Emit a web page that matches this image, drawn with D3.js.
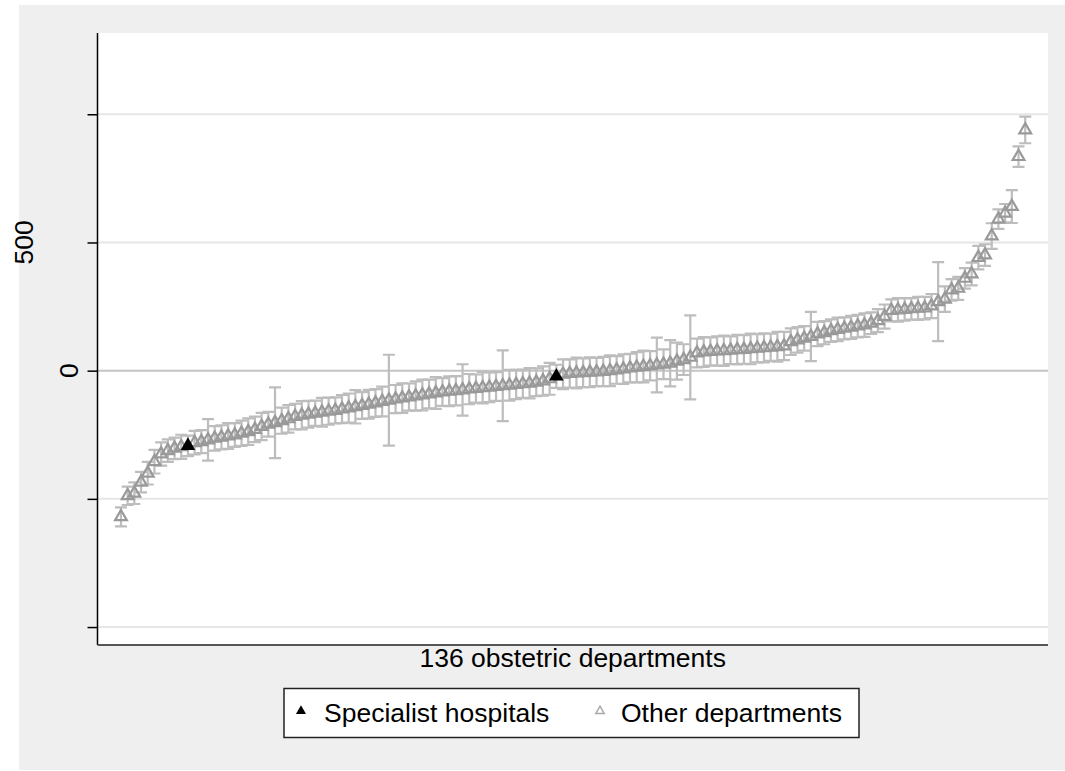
<!DOCTYPE html>
<html>
<head>
    <meta charset="utf-8">
    <title>136 obstetric departments</title>
    <script src="https://d3js.org/d3.v7.min.js"></script>
    <style>
        body { margin: 0; background: #fff; }
        text { font-family: "Liberation Sans", Arial, sans-serif; }
    </style>
</head>
<body>
<script type="text/javascript">
    const w = 1065;
    const h = 771;

    // department estimates, sorted ascending (index 1..136)
    const values = [
        -570, -488, -478, -435, -400, -355, -325, -312, -303, -297,
        -293, -281, -277, -270, -264, -260, -255, -251, -244, -238,
        -229, -218, -209, -203, -195, -188, -179, -174, -170, -166,
        -162, -158, -155, -150, -146, -141, -136, -131, -126, -120,
        -115, -111, -107, -103, -99, -95, -91, -87, -83, -80,
        -78, -75, -72, -70, -67, -65, -62, -59, -57, -54,
        -51, -49, -45, -40, -32, -22, -14, -11, -9, -8,
        -6, -5, -3, 0, 3, 6, 10, 13, 16, 19,
        22, 25, 29, 37, 43, 52, 69, 73, 75, 77,
        78, 80, 82, 83, 85, 87, 89, 91, 93, 96,
        113, 120, 126, 133, 143, 148, 156, 161, 165, 169,
        174, 178, 185, 195, 211, 235, 237, 239, 241, 243,
        244, 252, 269, 279, 315, 321, 360, 377, 441, 451,
        525, 591, 614, 640, 835, 939
    ];

    // half width of the confidence interval
    const halfWidths = [
        37, 36, 42, 40, 44, 46, 45, 44, 42, 47,
        40, 46, 45, 81, 48, 47, 50, 46, 49, 52,
        50, 53, 48, 138, 51, 54, 50, 55, 52, 49,
        56, 53, 51, 55, 57, 65, 52, 56, 54, 58,
        177, 55, 58, 53, 57, 60, 56, 62, 54, 58,
        57, 100, 59, 55, 61, 58, 56, 138, 60, 57,
        55, 59, 54, 57, 62, 45, 58, 55, 60, 56,
        58, 55, 57, 60, 54, 58, 56, 59, 62, 57,
        107, 58, 90, 72, 60, 164, 56, 58, 55, 57,
        59, 54, 58, 56, 60, 55, 57, 53, 58, 55,
        52, 50, 48, 96, 47, 45, 44, 46, 43, 45,
        44, 46, 42, 45, 47, 43, 46, 44, 42, 45,
        44, 47, 154, 50, 42, 45, 40, 44, 46, 42,
        50, 38, 36, 64, 40, 52
    ];

    // ranks of the specialist hospitals
    const specialist = [11, 66];

    const yTicks = [-1000, -500, 0, 500, 1000];
    const yLabels = [0, 500];
    const legendLabels = ['Specialist hospitals', 'Other departments'];
    const xTitle = '136 obstetric departments';

    const data = values.map((v, i) => ({
        rank: i + 1,
        value: v,
        lo: v - halfWidths[i],
        hi: v + halfWidths[i],
        special: specialist.includes(i + 1)
    }));

    const plot = {left: 97.5, right: 1048, top: 33, bottom: 645};

    const svg = d3.select('body').append('svg').attr('width', w).attr('height', h);

    // outer grey frame
    svg.append('rect')
        .attr('x', 19).attr('y', 5)
        .attr('width', w - 19).attr('height', 765)
        .attr('fill', '#efefef');

    svg.append('rect')
        .attr('x', plot.left).attr('y', plot.top)
        .attr('width', plot.right - plot.left).attr('height', plot.bottom - plot.top)
        .attr('fill', '#ffffff');

    const xScale = d3.scaleLinear()
        .domain([-2.5, 139.4])
        .range([plot.left, plot.right]);

    const yScale = d3.scaleLinear()
        .domain([-1070, 1317])
        .range([plot.bottom, plot.top]);

    // grid lines
    svg.selectAll('line.grid')
        .data(yTicks)
        .enter()
        .append('line')
        .attr('class', 'grid')
        .attr('x1', plot.left)
        .attr('x2', plot.right)
        .attr('y1', d => yScale(d))
        .attr('y2', d => yScale(d))
        .attr('stroke', d => d === 0 ? '#c4c4c4' : '#e6e6e6')
        .attr('stroke-width', 2);

    // y axis
    const yAxis = d3.axisLeft(yScale)
        .tickValues(yTicks)
        .tickSize(10)
        .tickFormat('');

    const yg = svg.append('g')
        .attr('transform', `translate(${plot.left},0)`)
        .call(yAxis);
    yg.select('.domain').remove();
    yg.selectAll('.tick line').attr('stroke', '#000').attr('stroke-width', 1.5);

    svg.append('line')
        .attr('x1', plot.left).attr('x2', plot.left)
        .attr('y1', plot.top).attr('y2', plot.bottom)
        .attr('stroke', '#000').attr('stroke-width', 1.5);

    svg.append('line')
        .attr('x1', plot.left).attr('x2', plot.right)
        .attr('y1', plot.bottom).attr('y2', plot.bottom)
        .attr('stroke', '#555').attr('stroke-width', 2);

    // tick labels (rotated)
    svg.selectAll('text.ylab')
        .data(yLabels)
        .enter()
        .append('text')
        .attr('class', 'ylab')
        .attr('transform', d => `translate(${d === 0 ? 78 : 33},${yScale(d)}) rotate(-90)`)
        .attr('text-anchor', 'middle')
        .attr('font-size', '26.5px')
        .attr('fill', '#000')
        .text(d => d);

    // confidence intervals
    const capW = 6;
    const bars = svg.append('g')
        .attr('stroke', '#bdbdbd')
        .attr('stroke-width', 2.2)
        .attr('fill', 'none');

    bars.selectAll('path')
        .data(data)
        .enter()
        .append('path')
        .attr('d', d => {
            const x = xScale(d.rank);
            const y1 = yScale(d.lo);
            const y2 = yScale(d.hi);
            return `M${x - capW},${y1}H${x + capW}M${x},${y1}V${y2}M${x - capW},${y2}H${x + capW}`;
        });

    const triOther = d3.symbol().type(d3.symbolTriangle).size(60);
    const triSpecial = d3.symbol().type(d3.symbolTriangle).size(92);

    svg.selectAll('path.other')
        .data(data.filter(d => !d.special))
        .enter()
        .append('path')
        .attr('class', 'other')
        .attr('d', triOther)
        .attr('transform', d => `translate(${xScale(d.rank)},${yScale(d.value)})`)
        .attr('fill', 'none')
        .attr('stroke', '#999999')
        .attr('stroke-width', 2.2);

    svg.selectAll('path.special')
        .data(data.filter(d => d.special))
        .enter()
        .append('path')
        .attr('class', 'special')
        .attr('d', triSpecial)
        .attr('transform', d => `translate(${xScale(d.rank)},${yScale(d.value)})`)
        .attr('fill', '#000');

    // x title
    svg.append('text')
        .attr('x', (plot.left + plot.right) / 2)
        .attr('y', 667)
        .attr('text-anchor', 'middle')
        .attr('font-size', '26.5px')
        .text(xTitle);

    // legend
    svg.append('rect')
        .attr('x', 284).attr('y', 688.5)
        .attr('width', 575).attr('height', 49)
        .attr('fill', '#fff')
        .attr('stroke', '#222')
        .attr('stroke-width', 1.5);

    svg.append('path')
        .attr('d', d3.symbol().type(d3.symbolTriangle).size(44)())
        .attr('transform', 'translate(301,711)')
        .attr('fill', '#000');

    svg.append('path')
        .attr('d', d3.symbol().type(d3.symbolTriangle).size(30)())
        .attr('transform', 'translate(600,711)')
        .attr('fill', 'none')
        .attr('stroke', '#a8a8a8')
        .attr('stroke-width', 1.5);

    svg.append('text')
        .attr('x', 324).attr('y', 722)
        .attr('font-size', '26.5px')
        .text(legendLabels[0]);

    svg.append('text')
        .attr('x', 621).attr('y', 722)
        .attr('font-size', '26.5px')
        .text(legendLabels[1]);
</script>
</body>
</html>
